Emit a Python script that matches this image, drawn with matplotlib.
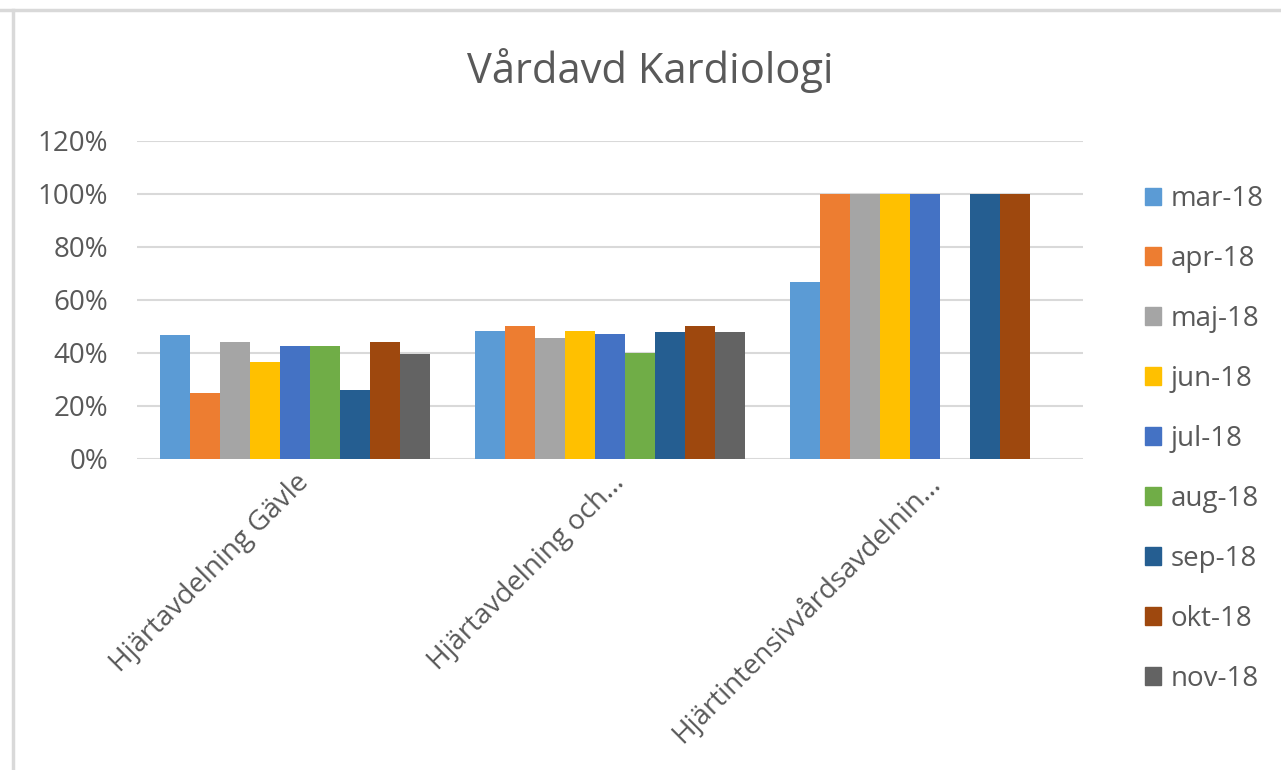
import numpy as np
import matplotlib
matplotlib.use('Agg')
import matplotlib.pyplot as plt
import matplotlib.ticker as ticker
from matplotlib.lines import Line2D

# data (fractions)
categories = ['Hjärtavdelning Gävle', 'Hjärtavdelning och...', 'Hjärtintensivvårdsavdelnin...']
months = ['mar-18', 'apr-18', 'maj-18', 'jun-18', 'jul-18', 'aug-18', 'sep-18', 'okt-18', 'nov-18']
mar_18 = [0.467, 0.484, 0.667]
apr_18 = [0.248, 0.50, 1.0]
maj_18 = [0.44, 0.458, 1.0]
jun_18 = [0.365, 0.484, 1.0]
jul_18 = [0.428, 0.472, 1.0]
aug_18 = [0.428, 0.401, np.nan]
sep_18 = [0.26, 0.478, 1.0]
okt_18 = [0.44, 0.50, 1.0]
nov_18 = [0.396, 0.478, np.nan]
series = [mar_18, apr_18, maj_18, jun_18, jul_18, aug_18, sep_18, okt_18, nov_18]
colors = ['#5B9BD5', '#ED7D31', '#A5A5A5', '#FFC000', '#4472C4',
          '#70AD47', '#255E91', '#9E480E', '#636363']

plt.rcParams['font.family'] = ['Open Sans', 'DejaVu Sans']
txt = '#595959'
grid = '#d9d9d9'

fig = plt.figure(figsize=(12.81, 7.70), dpi=100)
ax = fig.add_axes([0.107, 0.4039, 0.7384, 0.413])

x = np.arange(len(categories))
n = len(series)
group = 0.857
w = group / n
for i, (vals, c) in enumerate(zip(series, colors)):
    ax.bar(x - group / 2 + w * (i + 0.5), vals, width=w, color=c, label=months[i], zorder=3)

ax.set_xlim(-0.5, len(categories) - 0.5)
ax.set_ylim(0, 1.2)
ax.yaxis.set_major_locator(ticker.MultipleLocator(0.2))
ax.yaxis.set_major_formatter(ticker.FuncFormatter(lambda v, p: f'{v*100:.0f}%'))
ax.grid(axis='y', color=grid, linewidth=1.5, zorder=0)
for s in ax.spines.values():
    s.set_visible(False)
ax.tick_params(axis='both', length=0, labelsize=20, labelcolor=txt)
ax.tick_params(axis='y', pad=21)
ax.set_xticks(x)
ax.set_xticklabels(categories, rotation=45, ha='right', va='top', rotation_mode='anchor')
ax.tick_params(axis='x', pad=7)

fig.text(0.508, 0.909, 'Vårdavd Kardiologi', ha='center', va='center', fontsize=30, color=txt)

handles = [plt.Rectangle((0, 0), 1, 1, color=c) for c in colors]
leg = fig.legend(handles, months, loc='center left', bbox_to_anchor=(0.874, 0.43),
                 frameon=False, fontsize=20, labelcolor=txt, labelspacing=1.15,
                 handlelength=0.6, handleheight=0.6, handletextpad=0.35)

# screenshot border lines
fig.add_artist(Line2D([0, 1], [1 - 10 / 770, 1 - 10 / 770], color=grid, linewidth=2.5, transform=fig.transFigure))
fig.add_artist(Line2D([13 / 1281, 13 / 1281], [0, 1 - 10 / 770], color=grid, linewidth=2.5, transform=fig.transFigure))

fig.savefig('out.png', dpi=100)
